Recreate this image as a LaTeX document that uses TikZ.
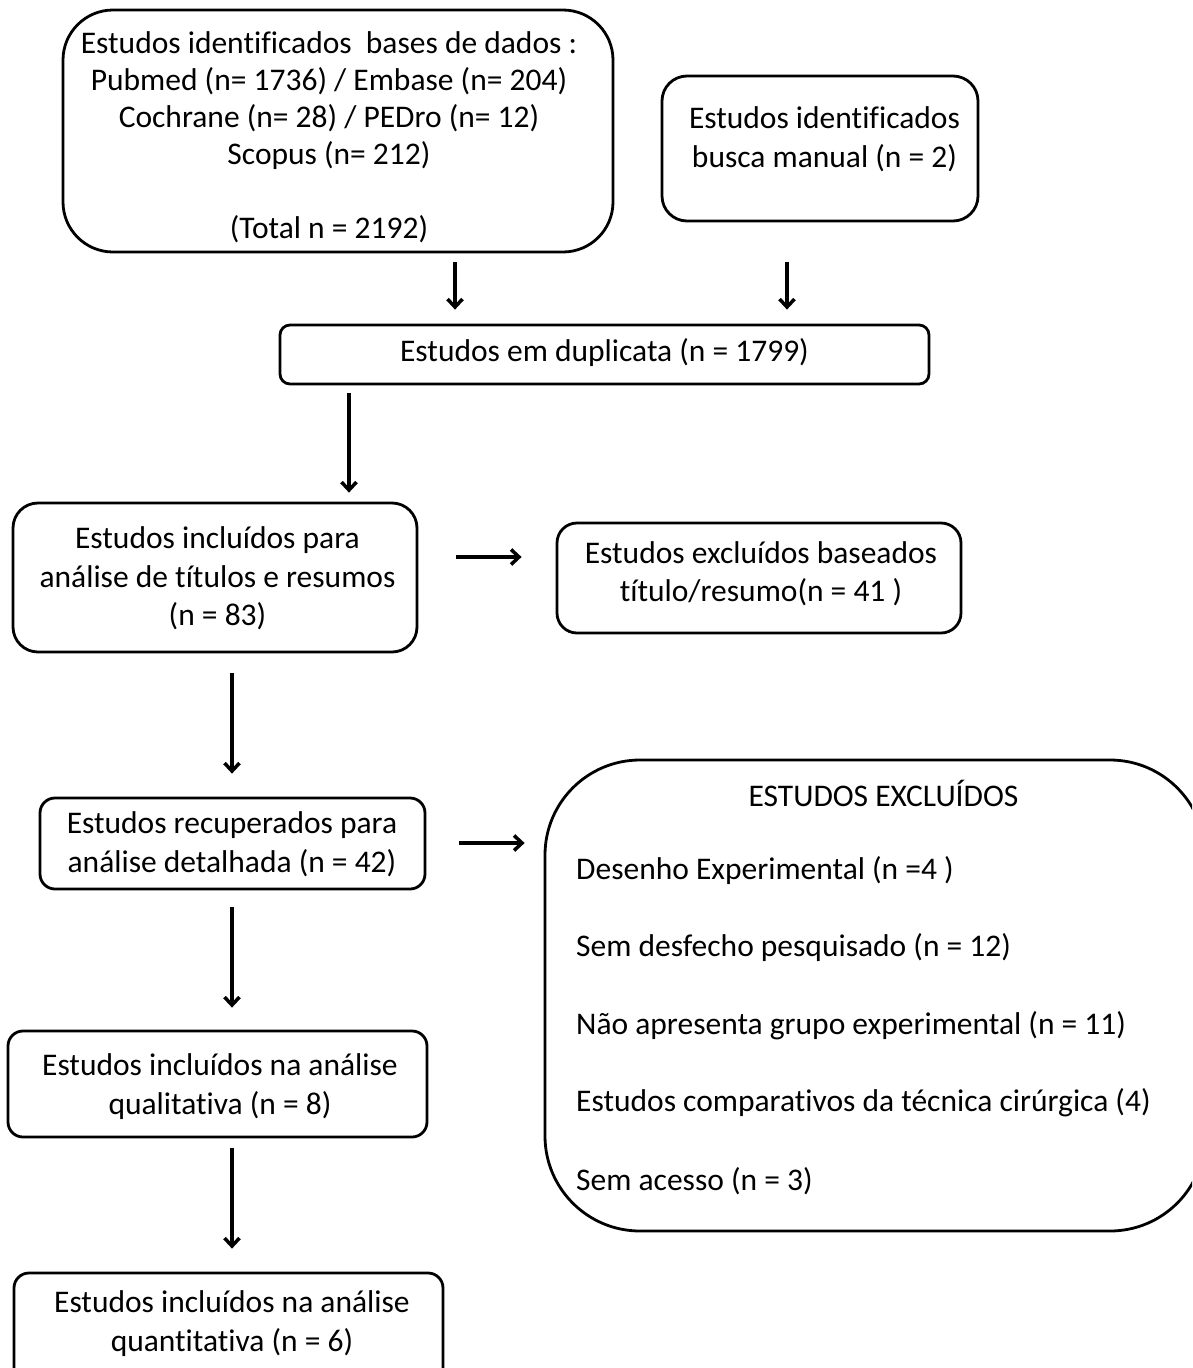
\documentclass[tikz,border=0pt]{standalone}
\usepackage{fontspec}
\setmainfont[Ligatures=NoCommon]{Carlito}
\usetikzlibrary{arrows.meta}
\begin{document}
\begin{tikzpicture}[x=1pt,y=-1pt,
  box/.style={draw=black,line width=2.8pt,inner sep=0pt,rectangle},
  txt/.style={inner sep=0pt,align=center,font=\fontsize{31.5}{38.5}\selectfont},
  ltxt/.style={inner sep=0pt,anchor=west,font=\fontsize{31.5}{38.5}\selectfont},
  arr/.style={line width=3.5pt,-{Straight Barb[length=8pt,width=15pt,line width=3.5pt]}}]
\useasboundingbox (0,0) rectangle (1192,1368);
\clip (0,0) rectangle (1192,1368);
% boxes
\node[box,minimum width=550,minimum height=242,rounded corners=50] (db) at (338,131) {};
\node[box,minimum width=316,minimum height=145,rounded corners=25] (man) at (820,148.5) {};
\node[box,minimum width=649,minimum height=59,rounded corners=10] (dup) at (604.5,354.5) {};
\node[box,minimum width=404,minimum height=149,rounded corners=25] (inc) at (215,577.5) {};
\node[box,minimum width=404,minimum height=110,rounded corners=20] (ex1) at (759,578) {};
\node[box,minimum width=385,minimum height=91,rounded corners=15] (rec) at (232.5,843.5) {};
\node[box,minimum width=660,minimum height=471,rounded corners=95] (ex2) at (875,995.5) {};
\node[box,minimum width=419,minimum height=106,rounded corners=15] (qual) at (217.5,1084) {};
\node[box,minimum width=429,minimum height=130,rounded corners=15] (quant) at (228.5,1338) {};
% texts
\node[txt,font=\fontsize{31.5}{37}\selectfont] (tdb) at (329,137.5) {Estudos identificados\ \ bases de dados :\\Pubmed (n= 1736) / Embase (n= 204)\\Cochrane (n= 28) / PEDro (n= 12)\\Scopus (n= 212)\\\mbox{}\\(Total n = 2192)};
\node[txt] (tman) at (824.5,139) {Estudos identificados\\busca manual (n = 2)};
\node[txt] (tdup) at (604.5,353) {Estudos em duplicata (n = 1799)};
\node[txt] (tinc) at (217.5,578.5) {Estudos incluídos para\\análise de títulos e resumos\\(n = 83)};
\node[txt] (tex1) at (761,573.5) {Estudos excluídos baseados\\título/resumo(n = 41 )};
\node[txt] (trec) at (232,844) {Estudos recuperados para\\análise detalhada (n = 42)};
\node[txt] (tqual) at (220,1086.5) {Estudos incluídos na análise\\qualitativa (n = 8)};
\node[txt] (tquant) at (232,1323.5) {Estudos incluídos na análise\\quantitativa (n = 6)};
\node[txt] (tex2) at (883.5,793) {ESTUDOS EXCLUÍDOS};
\node[ltxt] (i1) at (576,871) {Desenho Experimental (n =4 )};
\node[ltxt] (i2) at (576,948) {Sem desfecho pesquisado (n = 12)};
\node[ltxt] (i3) at (576,1026) {Não apresenta grupo experimental (n = 11)};
\node[ltxt] (i4) at (576,1103) {Estudos comparativos da técnica cirúrgica (4)};
\node[ltxt] (i5) at (576,1181) {Sem acesso (n = 3)};
% arrows
\draw[arr,shorten <=9pt,shorten >=14pt] (db.south -| 455,0) -- (dup.north -| 455,0);
\draw[arr,shorten <=40pt,shorten >=14pt] (man.south -| 787,0) -- (dup.north -| 787,0);
\draw[arr,shorten <=8pt,shorten >=9pt] (dup.south -| 349,0) -- (inc.north -| 349,0);
\draw[arr,shorten <=38pt,shorten >=34pt] (inc.east |- 0,557) -- (ex1.west |- 0,557);
\draw[arr,shorten <=20pt,shorten >=23pt] (inc.south -| 232,0) -- (rec.north -| 232,0);
\draw[arr,shorten <=33pt,shorten >=19pt] (rec.east |- 0,843) -- (ex2.west |- 0,843);
\draw[arr,shorten <=17pt,shorten >=22pt] (rec.south -| 232,0) -- (qual.north -| 232,0);
\draw[arr,shorten <=10pt,shorten >=23pt] (qual.south -| 232,0) -- (quant.north -| 232,0);
\end{tikzpicture}
\end{document}
